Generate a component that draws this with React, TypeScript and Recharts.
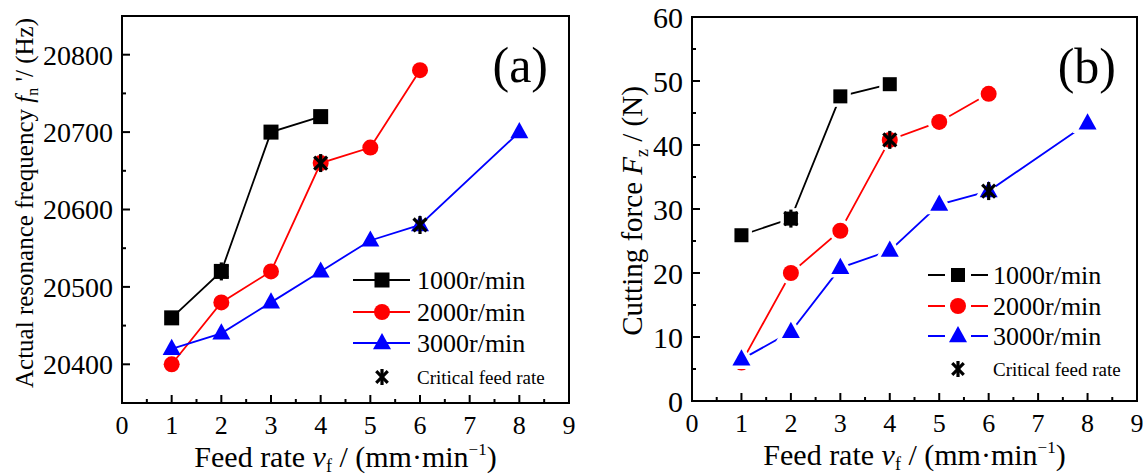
import React from "react";
import {
  ComposedChart, Line, XAxis, YAxis, ReferenceArea, Label, Legend,
} from "recharts";

// feed rate v_f (mm/min)
const feedRates = [1, 2, 3, 4, 5, 6, 8];
const criticalFeedRates = [2, 4, 6];

// (a) actual resonance frequency (Hz)
const freq1000 = [20460, 20520, 20700, 20720];
const freq2000 = [20400, 20480, 20520, 20660, 20680, 20780];
const freq3000 = [20420, 20440, 20480, 20520, 20560, 20580, 20700];
const freqCritical = [20520, 20660, 20580];

// (b) cutting force Fz (N)
const force1000 = [25.9, 28.5, 47.6, 49.5];
const force2000 = [6.0, 20.0, 26.6, 40.8, 43.6, 48.0];
const force3000 = [6.5, 10.8, 20.8, 23.5, 30.7, 32.8, 43.4];
const forceCritical = [28.5, 40.8, 32.8];

const speedLabels = ["1000r/min", "2000r/min", "3000r/min"];
const criticalLabel = "Critical feed rate";

const xLabels = [0, 1, 2, 3, 4, 5, 6, 7, 8, 9];
const freqLabels = [20400, 20500, 20600, 20700, 20800];
const forceLabels = [0, 10, 20, 30, 40, 50, 60];

const SERIF = '"Liberation Serif", "DejaVu Serif", "Noto Serif", serif';
const ts = { fontFamily: SERIF };
const colors = ["#000000", "#ff0000", "#0000ff"];
const kinds = ["square", "circle", "triangle"] as const;
type Kind = (typeof kinds)[number];
type Pt = { x: number; y: number };

const toPoints = (xs: number[], ys: number[]): Pt[] => ys.map((y, i) => ({ x: xs[i], y }));
const withMinor = (major: number[]) => {
  const out: number[] = [];
  major.forEach((v, i) => {
    out.push(v);
    if (i < major.length - 1) out.push((v + major[i + 1]) / 2);
  });
  return out;
};
const xTicks = withMinor(xLabels);

function drawMarker(kind: Kind, cx: number, cy: number, color: string, size: number, ring: boolean, key?: string) {
  const extra: any = ring ? { stroke: "#fff", strokeWidth: 7, paintOrder: "stroke" } : {};
  if (kind === "square")
    return <rect key={key} x={cx - size / 2} y={cy - size / 2} width={size} height={size} fill={color} {...extra} />;
  if (kind === "circle") return <circle key={key} cx={cx} cy={cy} r={size / 2} fill={color} {...extra} />;
  const h = size * 0.9;
  const pts = `${cx},${cy - h * 0.62} ${cx - size / 2},${cy + h * 0.38} ${cx + size / 2},${cy + h * 0.38}`;
  return <polygon key={key} points={pts} fill={color} {...extra} />;
}

function drawStar(cx: number, cy: number, r: number, key?: string) {
  const d = r * 0.72;
  return (
    <g key={key} stroke="#000" strokeWidth={3.2} strokeLinecap="butt">
      <line x1={cx} y1={cy - r} x2={cx} y2={cy + r} />
      <line x1={cx - d} y1={cy - d} x2={cx + d} y2={cy + d} />
      <line x1={cx - d} y1={cy + d} x2={cx + d} y2={cy - d} />
    </g>
  );
}

const XTick = (props: any) => {
  const { x, y, payload } = props;
  const v = payload.value;
  const major = Number.isInteger(v);
  return (
    <g>
      <line x1={x} y1={y} x2={x} y2={y - (major ? 8 : 4)} stroke="#000" strokeWidth={2} />
      {major && (
        <text x={x} y={y + 31} textAnchor="middle" style={ts} fontSize={26} fill="#000">
          {v}
        </text>
      )}
    </g>
  );
};

const makeYTick = (labels: number[], fontSize: number) => (props: any) => {
  const { x, y, payload } = props;
  const v = payload.value;
  const major = labels.includes(v);
  return (
    <g>
      <line x1={x} y1={y} x2={x + (major ? 8 : 4)} y2={y} stroke="#000" strokeWidth={2} />
      {major && (
        <text x={x - 9} y={y} dy="0.35em" textAnchor="end" style={ts} fontSize={fontSize} fill="#000">
          {v}
        </text>
      )}
    </g>
  );
};

const xTitle = (props: any) => {
  const vb = props.viewBox;
  const cx = vb.x + vb.width / 2;
  const y = vb.y + 64;
  return (
    <text x={cx} y={y} textAnchor="middle" style={ts} fontSize={30} fill="#000">
      <tspan>Feed rate </tspan>
      <tspan fontStyle="italic">v</tspan>
      <tspan fontSize={18} dy={5}>f</tspan>
      <tspan dy={-5}> / (mm</tspan>
      <tspan>·</tspan>
      <tspan>min</tspan>
      <tspan fontSize={17} dy={-12}>−1</tspan>
      <tspan dy={12}>)</tspan>
    </text>
  );
};

interface SeriesDef { pts: Pt[]; color: string; kind: Kind; size: number }
interface PanelProps {
  left: number; width: number; top: number; right: number; xAxisHeight: number;
  yDomain: [number, number]; yLabels: number[]; yFont: number;
  series: SeriesDef[]; critical: Pt[]; ring: boolean; tag: string;
  yTitle: React.ReactNode;
  legendLeft: number; legendTop: number; legendRows: number[];
}

function LegendBox({ p }: { p: PanelProps }) {
  const mx = 42;
  return (
    <svg width={240} height={140} style={{ overflow: "visible" }}>
      {p.series.map((s, i) => {
        const cy = p.legendRows[i];
        return (
          <g key={i}>
            {p.ring ? (
              <>
                <line x1={mx - 30} y1={cy} x2={mx - 13} y2={cy} stroke={s.color} strokeWidth={2} />
                <line x1={mx + 13} y1={cy} x2={mx + 30} y2={cy} stroke={s.color} strokeWidth={2} />
              </>
            ) : (
              <line x1={mx - 29} y1={cy} x2={mx + 28} y2={cy} stroke={s.color} strokeWidth={2} />
            )}
            {drawMarker(s.kind, mx, cy, s.color, s.size, false)}
            <text x={mx + 35} y={cy} dy="0.35em" style={ts} fontSize={26} fill="#000">
              {speedLabels[i]}
            </text>
          </g>
        );
      })}
      {drawStar(mx, p.legendRows[3], 8)}
      <text x={mx + 35} y={p.legendRows[3]} dy="0.35em" style={ts} fontSize={19} fill="#000">
        {criticalLabel}
      </text>
    </svg>
  );
}

function Panel(p: PanelProps) {
  const yTicks = withMinor(p.yLabels);
  return (
    <div style={{ position: "absolute", left: p.left, top: 0 }}>
      <ComposedChart width={p.width} height={475} margin={{ top: p.top, right: p.right, bottom: 0, left: 0 }}>
        <XAxis
          type="number" dataKey="x" domain={[0, 9]} ticks={xTicks} interval={0}
          tickSize={0} tickMargin={0} height={p.xAxisHeight} allowDataOverflow
          axisLine={{ stroke: "#000", strokeWidth: 2 }} tick={XTick}
        >
          <Label content={xTitle} />
        </XAxis>
        <YAxis
          type="number" domain={p.yDomain} ticks={yTicks} interval={0}
          tickSize={0} tickMargin={0} width={122} allowDataOverflow
          axisLine={{ stroke: "#000", strokeWidth: 2 }} tick={makeYTick(p.yLabels, p.yFont)}
        >
          <Label content={() => p.yTitle} />
        </YAxis>
        <ReferenceArea
          x1={0} x2={9} y1={p.yDomain[0]} y2={p.yDomain[1]}
          fill="none" fillOpacity={0} stroke="#000" strokeWidth={2}
        >
          <Label
            content={(lp: any) => {
              const vb = lp.viewBox;
              return (
                <text x={vb.x + vb.width - 21} y={vb.y + 66} textAnchor="end" style={ts} fontSize={50} fill="#000">
                  {p.tag}
                </text>
              );
            }}
          />
        </ReferenceArea>
        {p.series.map((s, i) => (
          <Line
            key={i} data={s.pts} dataKey="y" type="linear" stroke={s.color} strokeWidth={1.8}
            isAnimationActive={false} activeDot={false} legendType="none"
            dot={(d: any) => drawMarker(s.kind, d.cx, d.cy, s.color, s.size, p.ring, `m${i}-${d.index}`)}
          />
        ))}
        <Line
          data={p.critical} dataKey="y" type="linear" stroke="none" isAnimationActive={false}
          activeDot={false} legendType="none"
          dot={(d: any) => drawStar(d.cx, d.cy, 9, `c-${d.index}`)}
        />
        <Legend
          layout="horizontal" verticalAlign="middle" align="center"
          wrapperStyle={{ left: p.legendLeft, top: p.legendTop, width: 240, height: 140 }}
          content={() => <LegendBox p={p} />}
        />
      </ComposedChart>
    </div>
  );
}

const freqSeries: SeriesDef[] = [freq1000, freq2000, freq3000].map((ys, i) => ({
  pts: toPoints(feedRates, ys), color: colors[i], kind: kinds[i], size: [15, 16, 18][i],
}));
const forceSeries: SeriesDef[] = [force1000, force2000, force3000].map((ys, i) => ({
  pts: toPoints(feedRates, ys), color: colors[i], kind: kinds[i], size: [14, 16, 18][i],
}));

export default function App() {
  return (
    <div style={{ position: "absolute", left: 0, top: 0, width: 1143, height: 475, background: "#fff", overflow: "hidden", fontFamily: SERIF }}>
      <Panel
        left={0} width={580} top={16} right={11} xAxisHeight={72}
        yDomain={[20350, 20850]} yLabels={freqLabels} yFont={28}
        series={freqSeries} critical={toPoints(criticalFeedRates, freqCritical)} ring={false} tag="(a)"
        yTitle={
          <text x={24} y={203} transform="rotate(-90 24 203)" textAnchor="middle" dy="0.35em" style={ts} fontSize={25} fill="#000">
            <tspan>Actual resonance frequency </tspan>
            <tspan fontStyle="italic">f</tspan>
            <tspan fontSize={16} dy={5}>n</tspan>
            <tspan dy={-5}> '/ (Hz)</tspan>
          </text>
        }
        legendLeft={340} legendTop={260} legendRows={[20, 52, 83, 117]}
      />
      <Panel
        left={570} width={573} top={17} right={6} xAxisHeight={74}
        yDomain={[0, 60]} yLabels={forceLabels} yFont={30}
        series={forceSeries} critical={toPoints(criticalFeedRates, forceCritical)} ring={true} tag="(b)"
        yTitle={
          <text x={62} y={211} transform="rotate(-90 62 211)" textAnchor="middle" dy="0.35em" style={ts} fontSize={29} fill="#000">
            <tspan>Cutting force </tspan>
            <tspan fontStyle="italic">F</tspan>
            <tspan fontSize={18} dy={6}>z</tspan>
            <tspan dy={-6}> / (N)</tspan>
          </text>
        }
        legendLeft={346} legendTop={255} legendRows={[20, 51, 81, 114]}
      />
    </div>
  );
}
